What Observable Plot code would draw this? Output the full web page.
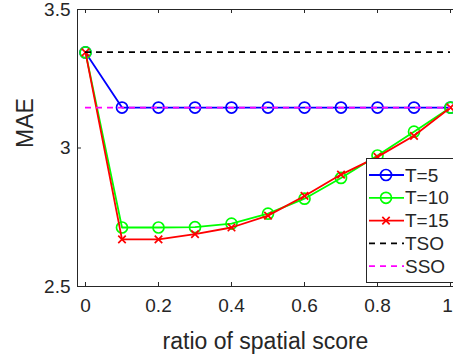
<!DOCTYPE html>
<html><head><meta charset="utf-8">
<script src="https://cdn.jsdelivr.net/npm/d3@7"></script>
<script src="https://cdn.jsdelivr.net/npm/@observablehq/plot@0.6"></script>
<style>
html,body{margin:0;padding:0;background:#fff;overflow:hidden;}
#chart{position:relative;width:453px;height:356px;overflow:hidden;}
</style></head><body><div id="chart"></div>
<script>
const ratios = [0, 0.1, 0.2, 0.3, 0.4, 0.5, 0.6, 0.7, 0.8, 0.9, 1];
const maeT5  = [3.345, 3.146, 3.146, 3.146, 3.146, 3.146, 3.146, 3.146, 3.146, 3.146, 3.146];
const maeT10 = [3.345, 2.713, 2.713, 2.714, 2.727, 2.763, 2.817, 2.892, 2.973, 3.059, 3.146];
const maeT15 = [3.345, 2.670, 2.670, 2.689, 2.713, 2.756, 2.827, 2.904, 2.968, 3.044, 3.146];
const maeTSO = 3.346;
const maeSSO = 3.146;
const xTicks = [0, 0.2, 0.4, 0.6, 0.8, 1];
const yTicks = [2.5, 3, 3.5];
const seriesNames = ["T=5", "T=10", "T=15", "TSO", "SSO"];
const seriesColors = ["#0000ff", "#00ff00", "#ff0000", "#000000", "#ff00ff"];
const seriesMarkers = ["circle", "circle", "times", null, null];
const xLabel = "ratio of spatial score";
const yLabel = "MAE";

const xDomain = [-0.0219, 1.0082];
const yDomain = [2.5, 3.5];
const W = 453, H = 356, mL = 77, mR = 0, mT = 9, mB = 70;
const plotH = H - mT - mB, plotW = W - mL - mR;
const FONT = "'Liberation Sans', Arial, Helvetica, sans-serif";

const series = [maeT5, maeT10, maeT15];
const marks = [];
// frame lines: left, top, bottom
marks.push(Plot.ruleY(yDomain, {stroke: "#262626", strokeWidth: 1}));
marks.push(Plot.ruleX([xDomain[0]], {stroke: "#262626", strokeWidth: 1}));
// inward ticks
marks.push(Plot.tickX(xTicks, {x: d => d, stroke: "#262626", insetTop: plotH - 4}));
marks.push(Plot.tickX(xTicks, {x: d => d, stroke: "#262626", insetBottom: plotH - 4}));
marks.push(Plot.tickY(yTicks, {y: d => d, stroke: "#262626", insetRight: plotW - 4}));
// series lines + markers
series.forEach((vals, i) => {
  const data = ratios.map((r, j) => ({x: r, y: vals[j]}));
  marks.push(Plot.line(data, {x: "x", y: "y", stroke: seriesColors[i], strokeWidth: 1.8}));
  marks.push(Plot.dot(data, {x: "x", y: "y", stroke: seriesColors[i], fill: "none",
    symbol: seriesMarkers[i], r: seriesMarkers[i] === "times" ? 3.5 : 5.5, strokeWidth: 1.7}));
});
marks.push(Plot.ruleY([maeTSO], {x1: ratios[0], x2: ratios[ratios.length - 1], stroke: seriesColors[3], strokeWidth: 1.8, strokeDasharray: "6,5"}));
marks.push(Plot.ruleY([maeSSO], {x1: ratios[0], x2: ratios[ratios.length - 1], stroke: seriesColors[4], strokeWidth: 1.8, strokeDasharray: "6,5"}));
// axes
const lastTick = xTicks[xTicks.length - 1];
marks.push(Plot.axisX(xTicks.slice(0, -1), {tickSize: 0, tickPadding: 12, tickFormat: d => String(d), fontSize: 19, fill: "#262626", label: null}));
marks.push(Plot.axisX([lastTick], {tickSize: 0, tickPadding: 12, tickFormat: d => String(d), fontSize: 19, fill: "#262626", label: null, dx: -3}));
marks.push(Plot.axisY(yTicks, {tickSize: 0, tickPadding: 7, tickFormat: d => String(d), fontSize: 19, fill: "#262626", label: null}));
marks.push(Plot.text([xLabel], {frameAnchor: "bottom", dy: 55, lineAnchor: "middle", fontSize: 23, fill: "#262626"}));
marks.push(Plot.text([yLabel], {frameAnchor: "left", dx: -52, rotate: -90, lineAnchor: "middle", fontSize: 23, fill: "#262626"}));

const chart = Plot.plot({
  width: W, height: H,
  marginLeft: mL, marginRight: mR, marginTop: mT, marginBottom: mB,
  x: {domain: xDomain},
  y: {domain: yDomain},
  style: {fontFamily: FONT, background: "#fff", overflow: "visible"},
  marks
});
document.getElementById("chart").appendChild(chart);

// legend
const svg = d3.select(chart);
const lg = svg.append("g").attr("transform", "translate(366,158)");
lg.append("rect").attr("x", 0.5).attr("y", 0.5).attr("width", 110).attr("height", 124)
  .attr("fill", "#fff").attr("stroke", "#262626").attr("stroke-width", 1);
seriesNames.forEach((name, i) => {
  const yy = 17 + i * 22.8;
  const dashed = i >= 3;
  lg.append("line").attr("x1", 3).attr("x2", 38).attr("y1", yy).attr("y2", yy)
    .attr("stroke", seriesColors[i]).attr("stroke-width", 1.8)
    .attr("stroke-dasharray", dashed ? "6,5" : null);
  if (seriesMarkers[i] === "circle") {
    lg.append("circle").attr("cx", 20).attr("cy", yy).attr("r", 5.5)
      .attr("fill", "none").attr("stroke", seriesColors[i]).attr("stroke-width", 1.7);
  } else if (seriesMarkers[i] === "times") {
    lg.append("path").attr("d", `M${20-3.7},${yy-3.7}L${20+3.7},${yy+3.7}M${20-3.7},${yy+3.7}L${20+3.7},${yy-3.7}`)
      .attr("stroke", seriesColors[i]).attr("stroke-width", 1.7);
  }
  lg.append("text").attr("x", 39).attr("y", yy).attr("dy", "0.35em")
    .attr("text-anchor", "start")
    .attr("font-size", 19).attr("font-family", FONT).attr("fill", "#262626").text(name);
});
</script></body></html>
